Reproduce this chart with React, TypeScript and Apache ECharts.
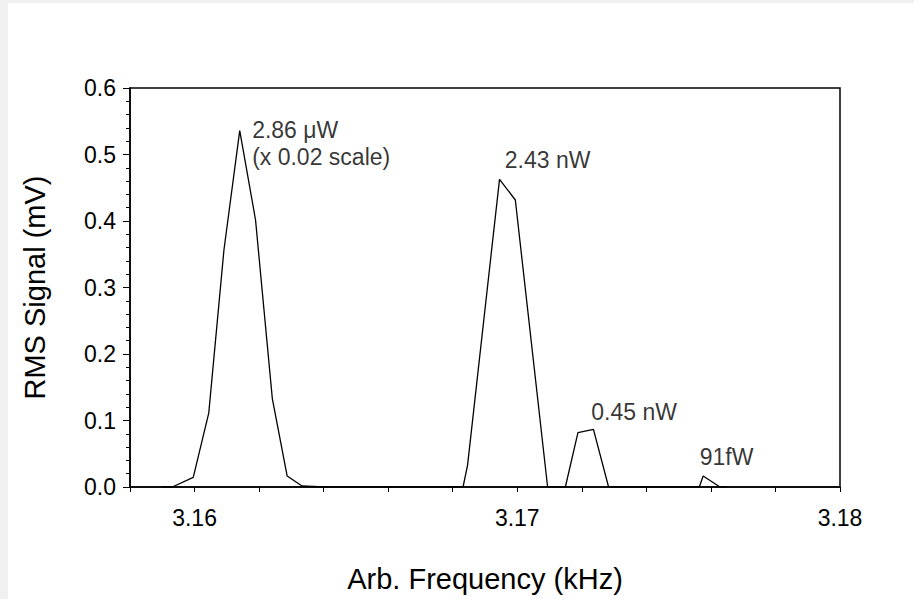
import React, { useEffect, useRef } from "react";
import * as echarts from "echarts";

// Frequency samples (kHz) and RMS signal (mV)
const frequency = [
  3.1590, 3.15931, 3.15996, 3.16044, 3.16091, 3.16140, 3.16189, 3.16241, 3.16287, 3.16333, 3.1640,
  3.16832, 3.16846, 3.16945, 3.16994, 3.17094,
  3.17149, 3.17188, 3.17236, 3.17283,
  3.17564, 3.17576, 3.17628, 3.1765,
];
const rmsSignal = [
  0, 0, 0.0146, 0.111, 0.356, 0.536, 0.4015, 0.133, 0.0165, 0.0015, 0,
  0, 0.033, 0.4627, 0.4316, 0,
  0, 0.0817, 0.0867, 0,
  0, 0.0165, 0, 0,
];

// Peak annotations (text anchored at data coordinates)
const annotationTexts = ["2.86 μW\n(x 0.02 scale)", "2.43 nW", "0.45 nW", "91fW"];
const annotationX = [3.1618, 3.16963, 3.17231, 3.17567];
const annotationY = [0.556, 0.511, 0.132, 0.0647];

const xTitle = "Arb. Frequency (kHz)";
const yTitle = "RMS Signal (mV)";

const FONT = "'Liberation Sans', Arial, sans-serif";

export default function App() {
  const ref = useRef<HTMLDivElement>(null);

  useEffect(() => {
    document.body.style.margin = "0";
    if (!ref.current) return;
    const chart = echarts.init(ref.current, undefined, { renderer: "svg" });
    const lineData = frequency.map((f, i) => [f, rmsSignal[i]]);
    const annData = annotationTexts.map((t, i) => ({
      name: t,
      value: [annotationX[i], annotationY[i]],
    }));
    chart.setOption({
      animation: false,
      backgroundColor: "#ffffff",
      textStyle: { fontFamily: FONT },
      grid: {
        left: 122,
        right: 74,
        top: 85,
        bottom: 112,
        show: true,
        borderColor: "#000",
        borderWidth: 1.5,
        backgroundColor: "transparent",
      },
      xAxis: {
        type: "value",
        min: 3.158,
        max: 3.18,
        interval: 0.002,
        name: xTitle,
        nameLocation: "middle",
        nameGap: 77,
        nameTextStyle: { fontSize: 29, color: "#000", fontFamily: FONT },
        axisLine: { show: true, onZero: false, lineStyle: { color: "#000", width: 1.5 } },
        axisTick: { show: true, length: 5, lineStyle: { color: "#000", width: 1 } },
        splitLine: { show: false },
        axisLabel: {
          margin: 19,
          fontSize: 23,
          color: "#000",
          fontFamily: FONT,
          showMinLabel: true,
          showMaxLabel: true,
          formatter: (v: number) =>
            Math.abs(v * 100 - Math.round(v * 100)) < 1e-6 ? v.toFixed(2) : "",
        },
      },
      yAxis: {
        type: "value",
        min: 0,
        max: 0.6,
        interval: 0.1,
        name: yTitle,
        nameLocation: "middle",
        nameGap: 81,
        nameTextStyle: { fontSize: 29, color: "#000", fontFamily: FONT },
        axisLine: { show: true, lineStyle: { color: "#000", width: 1.5 } },
        axisTick: { show: true, length: 7, lineStyle: { color: "#000", width: 1 } },
        minorTick: { show: true, splitNumber: 5, length: 4, lineStyle: { color: "#000", width: 1 } },
        splitLine: { show: false },
        minorSplitLine: { show: false },
        axisLabel: {
          margin: 14,
          fontSize: 23,
          color: "#000",
          fontFamily: FONT,
          formatter: (v: number) => v.toFixed(1),
        },
      },
      series: [
        {
          type: "line",
          data: lineData,
          symbol: "none",
          lineStyle: { color: "#000", width: 1.3 },
          z: 3,
        },
        {
          type: "scatter",
          data: annData,
          symbol: "circle",
          symbolSize: 1,
          itemStyle: { color: "transparent" },
          silent: true,
          label: {
            show: true,
            position: [0, 0],
            align: "left",
            verticalAlign: "top",
            formatter: "{b}",
            fontSize: 23,
            lineHeight: 27,
            color: "#000",
            fontFamily: FONT,
          },
        },
      ],
    });
    return () => chart.dispose();
  }, []);

  return (
    <div style={{ position: "relative", width: 914, height: 599, background: "#f0f0f0" }}>
      <div
        ref={ref}
        style={{ position: "absolute", left: 8, top: 3, width: 906, height: 596 }}
      />
    </div>
  );
}
